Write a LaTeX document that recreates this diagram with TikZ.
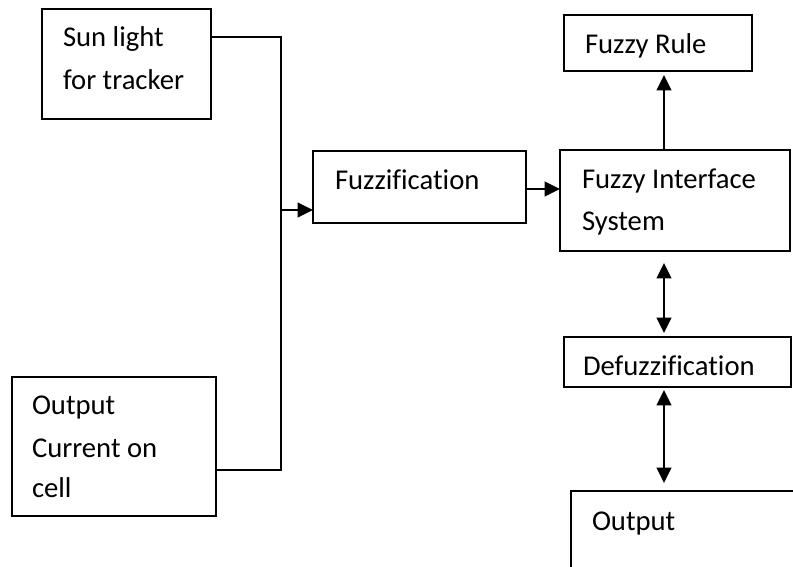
\documentclass[tikz,border=0pt]{standalone}
\usepackage{fontspec}
\setmainfont{Carlito}[Ligatures=NoCommon]
\usetikzlibrary{arrows.meta,fit}
\begin{document}
\begin{tikzpicture}[x=0.75pt,y=-0.75pt,
  box/.style={draw, line width=1.4pt, inner sep=0pt, outer sep=0pt},
  txt/.style={anchor=base west, inner sep=0pt, outer sep=0pt, font=\fontsize{21.5}{26}\selectfont},
  ln/.style={line width=1.3pt},
  arr/.style={ln, -{Triangle[length=11.5pt,width=11pt]}},
  darr/.style={ln, {Triangle[length=11.5pt,width=11pt]}-{Triangle[length=11.5pt,width=11pt]}}]
\clip (0,0) rectangle (793,567);
% boxes
\node[box, fit={(42,9) (211,119)}] (sun) {};
\node[box, fit={(12,377) (216,516)}] (outc) {};
\node[box, fit={(313,151) (526,223)}] (fzf) {};
\node[box, fit={(560,150) (790,251)}] (fis) {};
\node[box, fit={(564,15) (752,71)}] (rule) {};
\node[box, fit={(564,337) (791,387)}] (dfz) {};
\node[box, fit={(571,491) (820,600)}] (out) {};
% texts
\node[txt] (sunA) at (63,47) {Sun light};
\node[txt] (sunB) at (63,90) {for tracker};
\node[txt] (outcA) at (32,414) {Output};
\node[txt] (outcB) at (32,457) {Current on};
\node[txt] (outcC) at (32,497) {cell};
\node[txt] (fzfA) at (335,189) {Fuzzification};
\node[txt] (fisA) at (582,188) {Fuzzy Interface};
\node[txt] (fisB) at (582,230) {System};
\node[txt] (ruleA) at (585,54) {Fuzzy Rule};
\node[txt] (dfzA) at (583,375) {Defuzzification};
\node[txt] (outA) at (592,530) {Output};
% connectors
\coordinate (ja) at (281,37);
\coordinate (jb) at (281,470);
\coordinate (jc) at (281,210);
\coordinate (h1) at (0,189);
\coordinate (v1) at (664,0);
\draw[ln] (sun.east |- ja) -- (ja) -- (jb) -- (outc.east |- jb);
\draw[arr] (jc) -- (fzf.west |- jc);
\draw[arr] (fzf.east |- h1) -- (fis.west |- h1);
\draw[arr, shorten >=3pt] (fis.north -| v1) -- (rule.south -| v1);
\draw[darr, shorten <=9pt, shorten >=3pt] (fis.south -| v1) -- (dfz.north -| v1);
\draw[darr, shorten <=2.25pt, shorten >=6pt] (dfz.south -| v1) -- (out.north -| v1);
\end{tikzpicture}
\end{document}
